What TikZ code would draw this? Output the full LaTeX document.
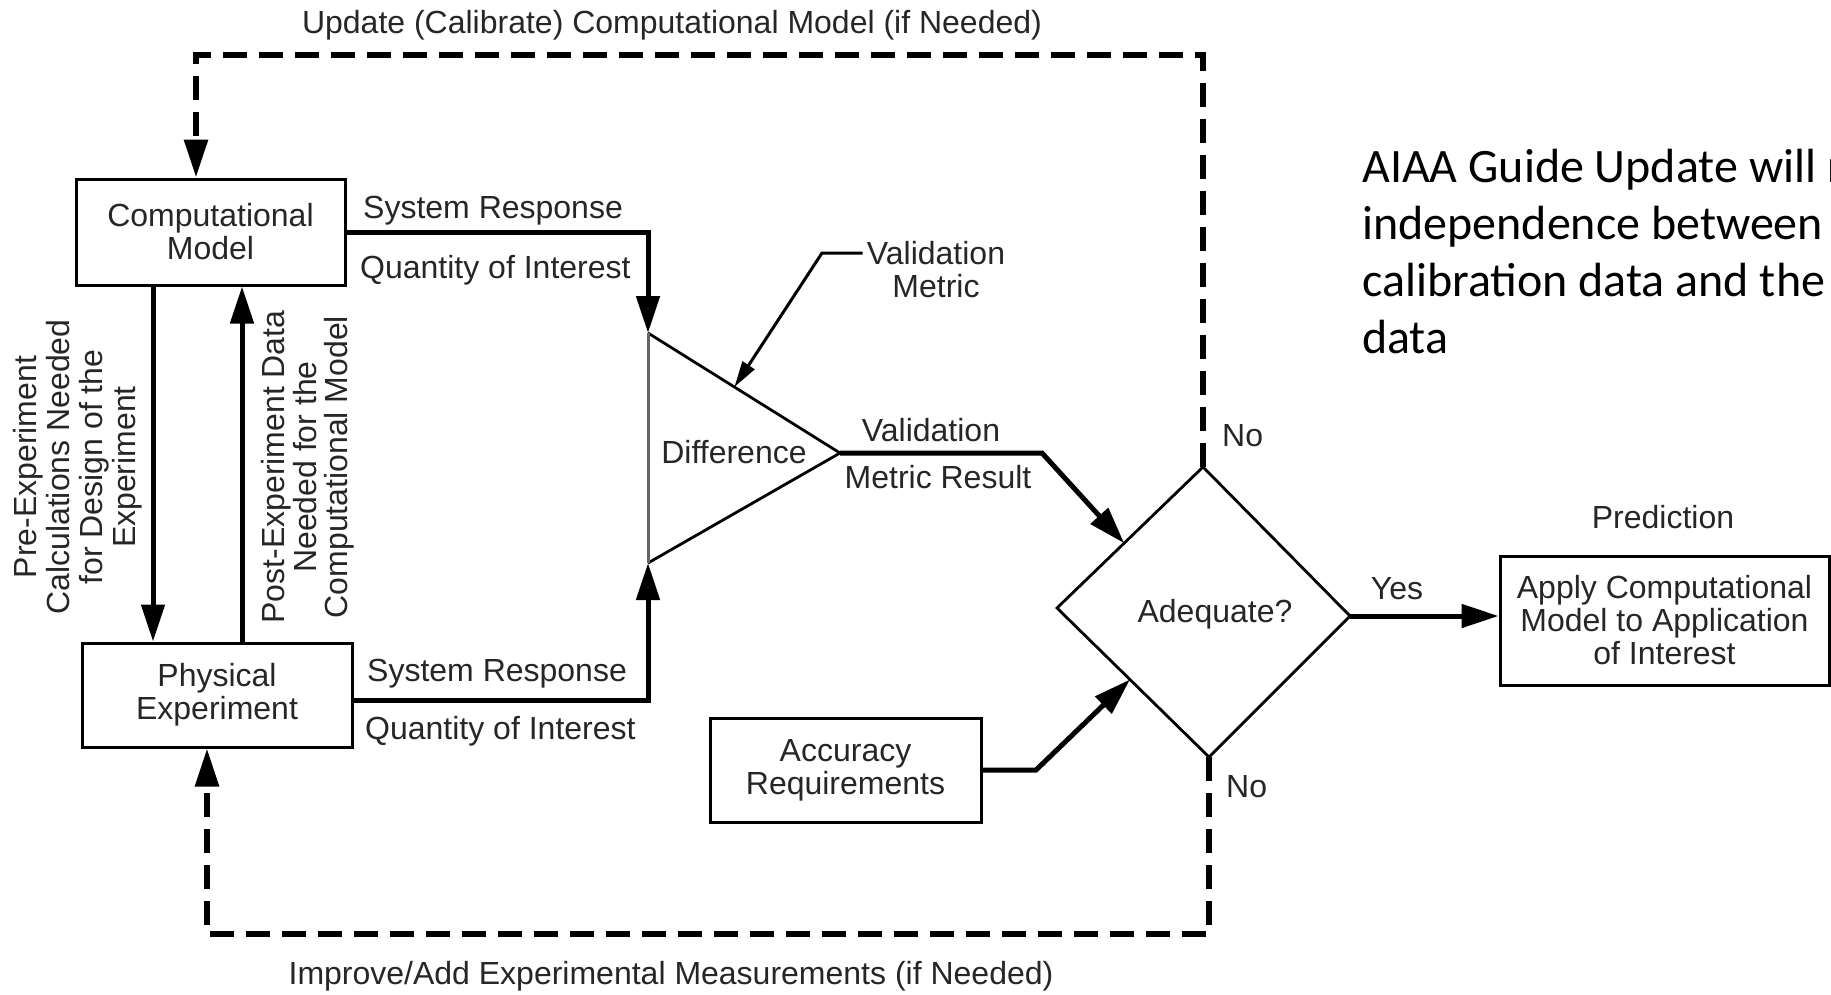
\documentclass[tikz,border=0pt]{standalone}
\usepackage{fontspec}
\setmainfont{Liberation Sans}
\newfontfamily\notefont{Carlito}
\usetikzlibrary{arrows.meta,calc}

\begin{document}
\begin{tikzpicture}[x=1pt,y=-1pt,
  font=\fontsize{32}{33}\selectfont,
  txt/.style={text=black!85, inner sep=0pt},
  box/.style={draw, line width=3pt, inner sep=0pt, align=center, text=black!85},
  flow/.style={line width=5pt, -{Triangle[length=37pt,width=23pt]}},
  feedback/.style={line width=6pt, dash pattern=on 24pt off 12pt,
                   -{Triangle[length=38pt,width=23pt]}},
  outline/.style={line width=2.8pt},
  leader/.style={line width=3pt, -{Triangle[length=26pt,width=14pt]}},
  sidetext/.style={txt, align=center, rotate=90},
  note/.style={anchor=base west, inner sep=0pt, font=\notefont\fontsize{48}{58}\selectfont},
]
\useasboundingbox (0,0) rectangle (1831,994);
\begin{scope}
\clip (0,0) rectangle (1831,994);

% process boxes
\node[box, minimum width=269pt, minimum height=106pt] (comp) at (210.5,232) {Computational\\Model};
\node[box, minimum width=270pt, minimum height=104pt] (phys) at (217,695) {Physical\\Experiment};
\node[box, minimum width=271pt, minimum height=104pt] (acc) at (845.5,770) {Accuracy\\Requirements};
\node[box, minimum width=329pt, minimum height=129pt] (pred) at (1664.5,620.5) {Apply Computational\\Model to Application\\of Interest};

% difference triangle
\coordinate (tl) at (648,333);
\coordinate (bl) at (648,563);
\coordinate (tr) at (840,453);
\draw[outline] (bl) -- (tr) -- (tl);
\draw[line width=3pt, black!60] (tl) -- (bl);
\node[txt] (diff) at (734,452) {Difference};

% decision diamond
\coordinate (dt) at (1203,467);
\coordinate (dl) at (1057,608);
\coordinate (db) at (1209,757);
\coordinate (dr) at (1350,616);
\draw[outline] (dt) -- (dr) -- (db) -- (dl) -- cycle;
\node[txt, anchor=base] (adq) at (1215,622) {Adequate?};

% model and experiment exchange
\coordinate (xa) at (153,0);
\coordinate (xb) at (242,0);
\draw[flow] (xa |- comp.south) -- (xa |- phys.north);
\draw[flow] (xb |- phys.north) -- (xb |- comp.south);
\node[sidetext, font=\fontsize{32}{33}\selectfont] (pre) at (78,467)
  {Pre-Experiment\\Calculations Needed\\for Design of the\\Experiment};
\node[sidetext, font=\fontsize{32}{31.5}\selectfont] (post) at (308,467)
  {Post-Experiment Data\\Needed for the\\Computational Model};

% system responses into the difference
\draw[flow] (comp.east) -| (tl);
\draw[flow] ([yshift=-5pt]phys.east) -| (bl);
\node[txt, anchor=base west] (srtop) at (363,218) {System Response};
\node[txt, anchor=base west] (qtop) at (360,278) {Quantity of Interest};
\node[txt, anchor=base west] (srbot) at (367,681) {System Response};
\node[txt, anchor=base west] (qbot) at (365,739) {Quantity of Interest};

% validation metric callout
\node[txt, align=center, inner xsep=4pt] (vm) at (936,270) {Validation\\Metric};
\coordinate (lk) at (822,253);
\coordinate (lt) at ($(tl)!0.45!(tr)$);
\draw[leader] (vm.west |- lk) -- (lk) -- (lt);

% metric result and accuracy into the decision
\coordinate (vk) at (1042,453);
\draw[flow] (tr) -- (vk) -- ($(dl)!0.46!(dt)$);
\node[txt, anchor=base] (vtop) at (931,441) {Validation};
\node[txt, anchor=base] (vbot) at (938,488) {Metric Result};
\coordinate (ak) at (1036,770);
\draw[flow] (acc.east) -- (ak) -- ($(dl)!0.48!(db)$);

% prediction branch
\draw[flow] (dr) -- (dr -| pred.west);
\node[txt, anchor=base] (yes) at (1397,599) {Yes};
\node[txt, anchor=base] (predlbl) at (1663,528) {Prediction};

% feedback loops
\coordinate (ul) at (196,55);
\draw[feedback] (dt) |- (ul) -- (ul |- comp.north);
\node[txt, anchor=base west] (noup) at (1222,446) {No};
\node[txt, anchor=base] (title) at (672,33) {Update (Calibrate) Computational Model (if Needed)};
\coordinate (ll) at (207,934);
\draw[feedback] (db) |- (ll) -- (ll |- phys.south);
\node[txt, anchor=base west] (nodown) at (1226,797) {No};
\node[txt, anchor=base] (improve) at (671,984) {Improve/Add Experimental Measurements (if Needed)};

% side note
\node[note] (n1) at (1362,182) {AIAA Guide Update will r};
\node[note] (n2) at (1362,239) {independence between};
\node[note] (n3) at (1362,296) {calibration data and the};
\node[note] (n4) at (1362,353) {data};
\end{scope}
\end{tikzpicture}
\end{document}
